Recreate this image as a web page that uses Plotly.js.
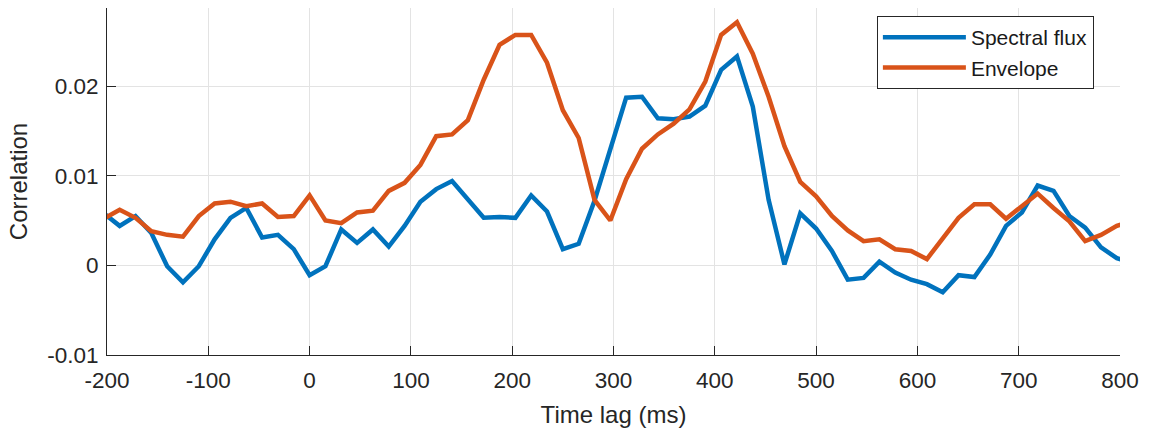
<!DOCTYPE html>
<html>
<head>
<meta charset="utf-8">
<script src="https://cdn.plot.ly/plotly-3.0.1.min.js"></script>
<style>
  html, body { margin: 0; padding: 0; background: #ffffff; }
  #chart { width: 1150px; height: 430px; }
</style>
</head>
<body>
<div id="chart"></div>
<script>
// Time lags (ms)
var lags = [-203.125, -187.5, -171.875, -156.25, -140.625, -125, -109.375, -93.75, -78.125, -62.5,
  -46.875, -31.25, -15.625, 0, 15.625, 31.25, 46.875, 62.5, 78.125, 93.75,
  109.375, 125, 140.625, 156.25, 171.875, 187.5, 203.125, 218.75, 234.375, 250,
  265.625, 281.25, 296.875, 312.5, 328.125, 343.75, 359.375, 375, 390.625, 406.25,
  421.875, 437.5, 453.125, 468.75, 484.375, 500, 515.625, 531.25, 546.875, 562.5,
  578.125, 593.75, 609.375, 625, 640.625, 656.25, 671.875, 687.5, 703.125, 718.75,
  734.375, 750, 765.625, 781.25, 796.875, 812.5];

// Correlation, spectral flux
var spectralFlux = [0.0058, 0.0044, 0.0055, 0.0036, -0.0001, -0.0019, -0.0001, 0.0029, 0.0053, 0.0064,
  0.0031, 0.0034, 0.0018, -0.0011, -0.0001, 0.0040, 0.0025, 0.0040, 0.0021, 0.0044,
  0.0071, 0.0085, 0.0094, 0.0074, 0.0053, 0.0054, 0.0053, 0.0078, 0.0060, 0.0018,
  0.0024, 0.0072, 0.0128, 0.0187, 0.0188, 0.0164, 0.0163, 0.0166, 0.0178, 0.0218,
  0.0233, 0.0177, 0.0073, 0.0001, 0.0058, 0.0041, 0.0016, -0.0016, -0.0014, 0.0004,
  -0.0008, -0.0016, -0.0021, -0.0030, -0.0011, -0.0013, 0.0012, 0.0044, 0.0059, 0.0089,
  0.0083, 0.0055, 0.0042, 0.0020, 0.0008, 0.0002];

// Correlation, envelope
var envelope = [0.0052, 0.0062, 0.0053, 0.0038, 0.0034, 0.0032, 0.0055, 0.0069, 0.0071, 0.0066,
  0.0069, 0.0054, 0.0055, 0.0078, 0.0050, 0.0047, 0.0059, 0.0061, 0.0083, 0.0092,
  0.0112, 0.0144, 0.0146, 0.0162, 0.0207, 0.0246, 0.0257, 0.0257, 0.0226, 0.0173,
  0.0142, 0.0073, 0.0050, 0.0096, 0.0130, 0.0146, 0.0158, 0.0174, 0.0205, 0.0257,
  0.0271, 0.0236, 0.0188, 0.0133, 0.0093, 0.0077, 0.0055, 0.0039, 0.0027, 0.0029,
  0.0018, 0.0016, 0.0007, 0.0030, 0.0053, 0.0068, 0.0068, 0.0052, 0.0066, 0.0080,
  0.0064, 0.0049, 0.0027, 0.0034, 0.0044, 0.0050];

var xTickVals = [-200, -100, 0, 100, 200, 300, 400, 500, 600, 700, 800];
var xTickText = ["-200", "-100", "0", "100", "200", "300", "400", "500", "600", "700", "800"];
var yTickVals = [-0.01, 0, 0.01, 0.02];
var yTickText = ["-0.01", "0", "0.01", "0.02"];

var seriesNames = ["Spectral flux", "Envelope"];
var seriesColors = ["#0072BD", "#D95319"];

var FONT = "Liberation Sans, Arial, Helvetica, sans-serif";
var INK = "#262626";

var traces = [
  { x: lags, y: spectralFlux, name: seriesNames[0], type: "scatter", mode: "lines",
    line: { color: seriesColors[0], width: 4.5 } },
  { x: lags, y: envelope, name: seriesNames[1], type: "scatter", mode: "lines",
    line: { color: seriesColors[1], width: 4.5 } }
];

var layout = {
  width: 1150, height: 430,
  margin: { l: 107, r: 30, t: 8, b: 75, pad: 0 },
  paper_bgcolor: "#ffffff", plot_bgcolor: "#ffffff",
  font: { family: FONT, color: INK, size: 22 },
  showlegend: true,
  legend: {
    x: 0.760, y: 0.977, xanchor: "left", yanchor: "top",
    bgcolor: "#ffffff", bordercolor: INK, borderwidth: 1,
    font: { family: FONT, size: 21, color: "#1a1a1a" },
    itemwidth: 83, tracegroupgap: 0, tracegroupgap: 0
  },
  xaxis: {
    range: [-200, 800], tickmode: "array", tickvals: xTickVals, ticktext: xTickText,
    showgrid: true, gridcolor: "#e3e3e3", gridwidth: 1, zeroline: false,
    showline: true, linecolor: INK, linewidth: 1, mirror: false,
    ticks: "inside", ticklen: 9, tickcolor: INK, tickwidth: 1,
    ticklabelstandoff: 5,
    tickfont: { family: FONT, size: 22.5, color: INK },
    title: { text: "Time lag (ms)", font: { family: FONT, size: 24, color: INK }, standoff: 14 }
  },
  yaxis: {
    range: [-0.01, 0.0287], tickmode: "array", tickvals: yTickVals, ticktext: yTickText,
    showgrid: true, gridcolor: "#e3e3e3", gridwidth: 1, zeroline: false,
    showline: true, linecolor: INK, linewidth: 1, mirror: false,
    ticks: "inside", ticklen: 9, tickcolor: INK, tickwidth: 1,
    ticklabelstandoff: 3,
    tickfont: { family: FONT, size: 22.5, color: INK },
    title: { text: "Correlation", font: { family: FONT, size: 24, color: INK }, standoff: 12 }
  }
};

Plotly.newPlot("chart", traces, layout, { displayModeBar: false, staticPlot: true });
</script>
</body>
</html>
